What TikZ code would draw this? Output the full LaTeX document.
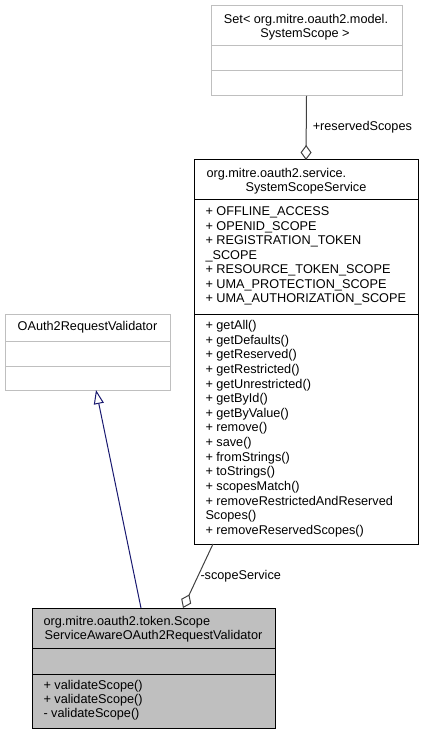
\documentclass[tikz,border=0pt]{standalone}
\usepackage{fontspec}
\setmainfont{Liberation Sans}
\usetikzlibrary{arrows.meta}
\definecolor{grey75}{HTML}{BFBFBF}
\definecolor{grey25}{HTML}{404040}
\definecolor{midnightblue}{HTML}{191970}

\begin{document}
\begin{tikzpicture}[x=1pt, y=-1pt, font=\fontsize{12.7}{14.5}\selectfont, line width=1pt,
    classbox/.style={draw=black, anchor=north west, inner sep=0pt, outer sep=0pt},
    member/.style={anchor=base west, inner sep=0pt},
    title/.style={anchor=base, inner sep=0pt}]
    \useasboundingbox (0,0) rectangle (424,735);

    % classes
    \node[classbox, draw=grey75, minimum width=191pt, minimum height=90pt] at (211,6) (set) {};
    \node[classbox, minimum width=224pt, minimum height=384pt] at (194,160) (sss) {};
    \node[classbox, draw=grey75, minimum width=165pt, minimum height=76pt] at (5,314) (orv) {};
    \node[classbox, fill=grey75, minimum width=243pt, minimum height=120pt] at (32,608) (val) {};

    \draw[grey75] (211,46) -- (402,46);
    \draw[grey75] (211,71) -- (402,71);
    \draw (194,200) -- (418,200);
    \draw (194,314) -- (418,314);
    \draw[grey75] (5,341) -- (170,341);
    \draw[grey75] (5,366) -- (170,366);
    \draw (32,648) -- (275,648);
    \draw (32,674) -- (275,674);

    % titles
    \node[title] at (306,23.3) (setT1) {Set< org.mitre.oauth2.model.};
    \node[title] at (305,38) (setT2) {SystemScope >};
    \node[member] at (206,177.3) (sssT1) {org.mitre.oauth2.service.};
    \node[title] at (306,191.8) (sssT2) {SystemScopeService};
    \node[title] at (87.5,330.5) (orvT) {OAuth2RequestValidator};
    \node[member] at (43,625) (valT1) {org.mitre.oauth2.token.Scope};
    \node[title] at (153.5,639.3) (valT2) {ServiceAwareOAuth2RequestValidator};

    % members
    \foreach \m [count=\i from 0] in {+ OFFLINE\_ACCESS, + OPENID\_SCOPE, + REGISTRATION\_TOKEN,
        \_SCOPE, + RESOURCE\_TOKEN\_SCOPE, + UMA\_PROTECTION\_SCOPE, + UMA\_AUTHORIZATION\_SCOPE}
        \node[member] at (205,{215.5+14.5*\i}) (attr\i) {\m};
    \foreach \m [count=\i from 0] in {+ getAll(), + getDefaults(), + getReserved(), + getRestricted(),
        + getUnrestricted(), + getById(), + getByValue(), + remove(), + save(), + fromStrings(),
        + toStrings(), + scopesMatch(), + removeRestrictedAndReserved, Scopes(), + removeReservedScopes()}
        \node[member] at (205,{329.5+14.64*\i}) (op\i) {\m};
    \foreach \m [count=\i from 0] in {+ validateScope(), + validateScope(), - validateScope()}
        \node[member] at (43,{689.7+13.7*\i}) (valop\i) {\m};

    % relations
    \draw[grey25, -{Diamond[open, length=15pt, width=11pt]}] (set.south) -- (sss.north)
        node[midway, anchor=base west, inner sep=0pt, xshift=6pt, yshift=-3pt, text=black] (lblRes) {+reservedScopes};
    \draw[grey25, -{Diamond[open, length=15pt, width=11pt]}] ([xshift=19pt]sss.south west) -- ([xshift=151pt]val.north west)
        node[midway, anchor=base west, inner sep=0pt, xshift=2pt, yshift=-3pt, text=black] (lblSvc) {-scopeService};
    \draw[midnightblue, -{Triangle[open, length=14pt, width=10pt]}] ([xshift=109pt]val.north west) -- ([xshift=91pt]orv.south west);
\end{tikzpicture}
\end{document}
